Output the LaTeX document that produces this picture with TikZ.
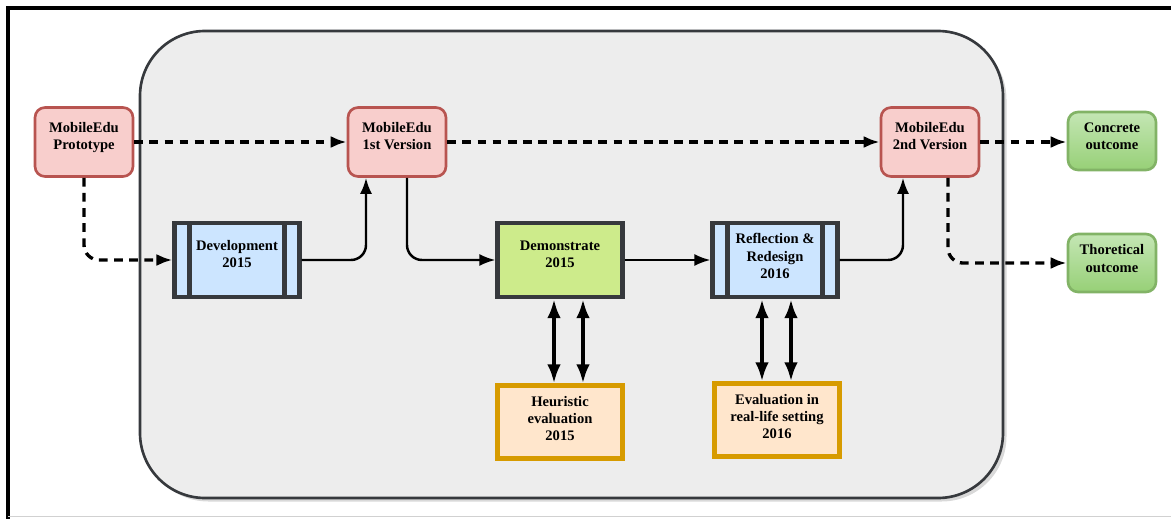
\documentclass[tikz,border=0pt]{standalone}
\usepackage{fontspec}
\setmainfont{Liberation Serif}
\usetikzlibrary{arrows.meta,shadows}

\definecolor{redfill}{HTML}{F8CECC}
\definecolor{redline}{HTML}{B85450}
\definecolor{bluefill}{HTML}{CCE5FF}
\definecolor{darkline}{HTML}{36393D}
\definecolor{demofill}{HTML}{CDEB8B}
\definecolor{orangefill}{HTML}{FFE6CC}
\definecolor{orangeline}{HTML}{D79B00}
\definecolor{greentop}{HTML}{C4E6B4}
\definecolor{greenbot}{HTML}{97D077}
\definecolor{greenline}{HTML}{82B366}
\definecolor{panelfill}{HTML}{EDEDED}

\tikzset{
  lbl/.style={font=\bfseries\fontsize{8.3}{9.8}\selectfont, align=center, inner sep=1pt, text depth=0.24cm},
  versionbox/.style={lbl, draw=redline, fill=redfill, line width=1.5pt, rounded corners=0.2cm,
    minimum width=1.96cm, minimum height=1.38cm},
  outbox/.style={lbl, draw=greenline, top color=greentop, bottom color=greenbot, line width=1.5pt,
    rounded corners=0.2cm, minimum width=1.76cm, minimum height=1.16cm, text depth=0.18cm},
  stepbox/.style={lbl, draw=darkline, line width=2.3pt, minimum width=2.5cm, minimum height=1.48cm},
  procbox/.style={stepbox, fill=bluefill, path picture={
    \draw[darkline, line width=2.3pt]
      ([xshift=0.3cm]path picture bounding box.north west) -- ([xshift=0.3cm]path picture bounding box.south west)
      ([xshift=-0.3cm]path picture bounding box.north east) -- ([xshift=-0.3cm]path picture bounding box.south east);}},
  evalbox/.style={lbl, draw=orangeline, fill=orangefill, line width=2.3pt,
    minimum width=2.5cm, minimum height=1.46cm, text depth=0.15cm},
  arrow/.style={line width=1.4pt, -{Latex[length=0.32cm, width=0.24cm]}},
  dasharrow/.style={arrow, line width=1.9pt, dash pattern=on 5pt off 3.6pt},
  twoway/.style={line width=2.2pt, {Latex[length=0.38cm, width=0.27cm]}-{Latex[length=0.38cm, width=0.27cm]}}
}

\begin{document}
\begin{tikzpicture}[x=0.02cm, y=-0.02cm]
\useasboundingbox (0,0) rectangle (1171,518);
% frame
\draw[line width=2.3pt, line cap=rect] (8,518) -- (8,8) -- (1171,8);
\draw[black!18, line width=0.6pt] (8,516.5) -- (1171,516.5);
% panel
\draw[darkline, fill=panelfill, line width=1.5pt, rounded corners=1.3cm,
  drop shadow={shadow xshift=0.07cm, shadow yshift=-0.07cm, opacity=0.3}] (140,31) rectangle (1003,498);

% nodes
\node[versionbox] (proto) at (84,142) {MobileEdu\\Prototype};
\node[versionbox] (v1) at (397,142) {MobileEdu\\1st Version};
\node[versionbox] (v2) at (930,142) {MobileEdu\\2nd Version};
\node[outbox] (concrete) at (1112,141) {Concrete\\outcome};
\node[outbox] (theory) at (1112,263) {Thoretical\\outcome};
\node[procbox] (dev) at (237,260) {Development\\2015};
\node[stepbox, fill=demofill] (demo) at (560,260) {Demonstrate\\2015};
\node[procbox, text depth=0.16cm] (refl) at (775,260) {Reflection \&\\Redesign\\2016};
\node[evalbox] (heur) at (560,422) {Heuristic\\evaluation\\2015};
\node[evalbox] (real) at (777,420) {Evaluation in\\real-life setting\\2016};

% connectors
\draw[dasharrow] (proto) -- (v1);
\draw[dasharrow, rounded corners=0.3cm] (proto.south) |- (dev.west);
\draw[arrow, rounded corners=0.3cm] (dev.east) -| ([xshift=-0.62cm]v1.south);
\draw[arrow, rounded corners=0.3cm] ([xshift=0.2cm]v1.south) |- (demo.west);
\draw[dasharrow] (v1) -- (v2);
\draw[arrow] (demo) -- (refl);
\draw[arrow, rounded corners=0.3cm] (refl.east) -| ([xshift=-0.54cm]v2.south);
\draw[dasharrow] (v2.east) -- (v2.east -| concrete.west);
\draw[dasharrow, rounded corners=0.3cm] ([xshift=0.36cm]v2.south) |- (theory.west);
\draw[twoway] ([xshift=-0.12cm]demo.south) -- ([xshift=-0.12cm]demo.south |- heur.north);
\draw[twoway] ([xshift=0.46cm]demo.south) -- ([xshift=0.46cm]demo.south |- heur.north);
\draw[twoway] ([xshift=-0.26cm]refl.south) -- ([xshift=-0.26cm]refl.south |- real.north);
\draw[twoway] ([xshift=0.32cm]refl.south) -- ([xshift=0.32cm]refl.south |- real.north);
\end{tikzpicture}
\end{document}
